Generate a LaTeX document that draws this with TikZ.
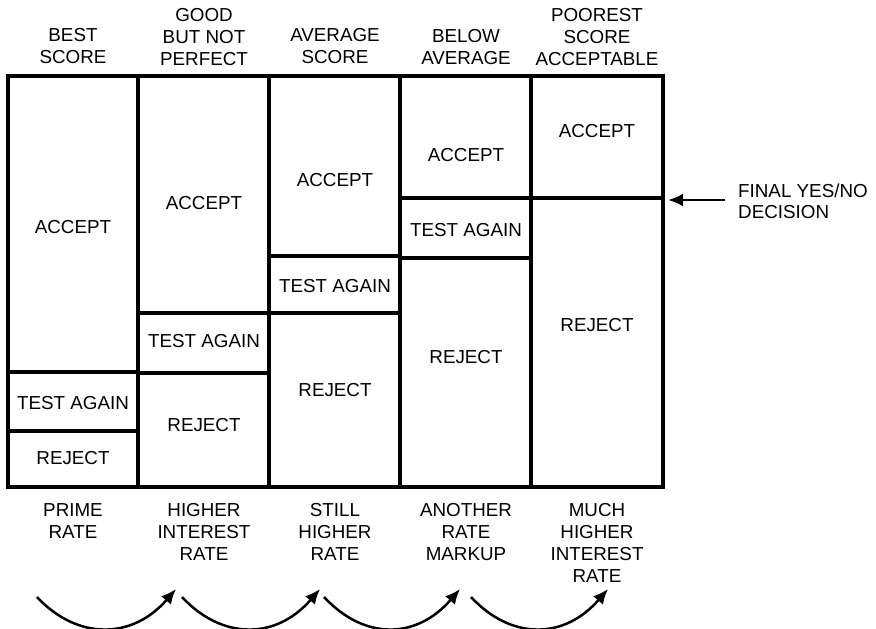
\documentclass[tikz,border=0pt]{standalone}
\usepackage{fontspec}
\setmainfont{Liberation Sans}
\usetikzlibrary{arrows.meta}
\begin{document}
\begin{tikzpicture}[x=1pt,y=-1pt,
  grid/.style={line width=3.5pt},
  cell/.style={inner sep=0pt,font=\fontsize{18.8}{22}\selectfont},
  lbl/.style={cell,align=center},
  tip/.style={-{Latex[length=15pt,width=13pt]}},
  bendarrow/.style={line width=2.5pt,tip}]
  \useasboundingbox (0,0) rectangle (876,629);
  % frame, columns and the splits inside each column
  \draw[grid] (8,76) rectangle (663,487);
  \foreach \x in {138,269,400,531}
    \draw[grid] (\x,76) -- (\x,487);
  \foreach \l/\r/\y in {8/138/372,8/138/431,138/269/313,138/269/373,
      269/400/256,269/400/313,400/531/198,400/531/258,531/663/198}
    \draw[grid] (\l,\y) -- (\r,\y);
  % cell texts
  \foreach \n/\x/\y/\t in {acc1/73/227/ACCEPT,test1/73/403/TEST AGAIN,rej1/73/458/REJECT,
      acc2/204/203/ACCEPT,test2/204/341/TEST AGAIN,rej2/204/425/REJECT,
      acc3/335/180/ACCEPT,test3/335/286/TEST AGAIN,rej3/335/390/REJECT,
      acc4/466/155/ACCEPT,test4/466/230/TEST AGAIN,rej4/466/357/REJECT,
      acc5/597/131/ACCEPT,rej5/597/325/REJECT}
    \node[cell] (\n) at (\x,\y) {\t};
  % column heads
  \node[lbl,anchor=south] (head1) at (73,64) {BEST\\SCORE};
  \node[lbl,anchor=south] (head2) at (204,66) {GOOD\\BUT NOT\\PERFECT};
  \node[lbl,anchor=south] (head3) at (335,64) {AVERAGE\\SCORE};
  \node[lbl,anchor=south] (head4) at (466,65) {BELOW\\AVERAGE};
  \node[lbl,anchor=south] (head5) at (597,66) {POOREST\\SCORE\\ACCEPTABLE};
  % rates under the columns
  \node[lbl,anchor=north] (rate1) at (73,503) {PRIME\\RATE};
  \node[lbl,anchor=north] (rate2) at (204,503) {HIGHER\\INTEREST\\RATE};
  \node[lbl,anchor=north] (rate3) at (335,503) {STILL\\HIGHER\\RATE};
  \node[lbl,anchor=north] (rate4) at (466,503) {ANOTHER\\RATE\\MARKUP};
  \node[lbl,anchor=north] (rate5) at (597,503) {MUCH\\HIGHER\\INTEREST\\RATE};
  % decision pointer
  \node[cell,align=left,anchor=north west,font=\fontsize{18.8}{21}\selectfont]
    (decision) at (738,184) {FINAL YES/NO\\DECISION};
  \coordinate (split5) at (668,200);
  \draw[line width=2.5pt,tip]
    ([xshift=-13pt]decision.west |- split5) -- (split5);
  % rate steps
  \foreach \i/\s/\t in {1/37/176,2/182/320,3/324/460,4/471/608} {
    \coordinate (from\i) at (\s,597);
    \coordinate (to\i) at (\t,589);
    \draw[bendarrow] (from\i) .. controls +(40,43) and +(-44,51) .. (to\i);
  }
\end{tikzpicture}
\end{document}
